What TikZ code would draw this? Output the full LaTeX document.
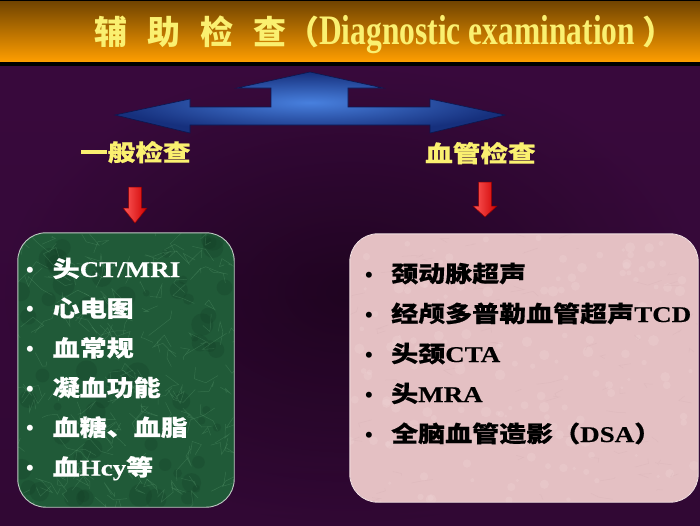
\documentclass[tikz,border=0pt]{standalone}
\usepackage{fontspec}
\setmainfont{Liberation Serif}
\newfontfamily\cjk{Noto Sans CJK SC}
\newfontfamily\cjkw{Noto Sans CJK SC}[FakeStretch=1.2, FakeBold=0.6]
\newfontfamily\serw{Liberation Serif Bold}[FakeStretch=1.2, FakeBold=0.4]
\newfontfamily\sern{Liberation Serif Bold}[FakeStretch=0.75]
\newcommand\zh[1]{{\cjkw\bfseries #1}}
\newcommand\en[1]{{\serw #1}}
\definecolor{ttlyellow}{RGB}{250,240,112}
\definecolor{hdrtop}{RGB}{110,66,0}
\definecolor{hdrbot}{RGB}{255,158,0}
\definecolor{bgtop}{RGB}{58,10,62}
\definecolor{bgbot}{RGB}{36,5,38}
\definecolor{bgdark}{RGB}{22,2,22}
\definecolor{arrin}{RGB}{72,128,222}
\definecolor{arrout}{RGB}{22,48,125}
\definecolor{arrline}{RGB}{10,24,80}
\definecolor{greenbase}{RGB}{32,90,56}
\definecolor{greenvein}{RGB}{105,170,125}
\definecolor{greendark}{RGB}{18,58,35}
\definecolor{pinkbase}{RGB}{228,192,195}
\definecolor{pinklight}{RGB}{240,212,214}
\definecolor{pinkdark}{RGB}{208,170,175}
\definecolor{redlight}{RGB}{255,90,90}
\definecolor{reddark}{RGB}{205,0,0}
\tikzset{
  itemfont/.style={font=\fontsize{22.5}{27}\selectfont},
  whiteitem/.style={itemfont, text=white, anchor=base west, inner sep=0pt},
  blackitem/.style={itemfont, text=black, anchor=base west, inner sep=0pt},
  bulletw/.style={font=\fontsize{22}{26}\selectfont\bfseries, text=white, anchor=base, inner sep=0pt},
  bulletb/.style={font=\fontsize{22}{26}\selectfont\bfseries, text=black, anchor=base, inner sep=0pt},
  catlabel/.style={font=\cjkw\bfseries\fontsize{23}{26}\selectfont, text=ttlyellow, anchor=base west, inner sep=0pt},
  greenbox/.style={rounded corners=28pt, fill=greenbase, minimum width=216pt, minimum height=274pt, inner sep=0pt},
  pinkbox/.style={rounded corners=28pt, fill=pinkbase, minimum width=348pt, minimum height=268pt, inner sep=0pt},
  redarrow/.style={left color=redlight, right color=reddark, draw={rgb,255:red,140;green,0;blue,0}, line width=0.5pt},
}
\begin{document}
\begin{tikzpicture}[x=1pt,y=-1pt]
\useasboundingbox (0,0) rectangle (700,525);
% background
\shade[top color=bgtop, bottom color=bgbot] (0,0) rectangle (700,525);
\shade[inner color=bgdark, outer color=bgtop, opacity=0.6] (0,60) rectangle (700,525);
% header
\shade[top color=hdrtop, bottom color=hdrbot] (0,0) rectangle (700,62);
\fill[black] (0,62) rectangle (700,65.5);
\fill[black] (0,0) rectangle (700,1.2);
\node[anchor=base west, inner sep=0pt, text=ttlyellow] (title) at (94,44)
  {{\cjk\bfseries\fontsize{33}{36}\selectfont 辅\hspace{20pt}助\hspace{20pt}检\hspace{20pt}查（}{\sern\fontsize{42}{46}\selectfont Diagnostic examination }{\cjk\bfseries\fontsize{33}{36}\selectfont ）}};
% blue triple arrow
\shade[inner color=arrin, outer color=arrout, draw=arrline, line width=0.6pt]
  (310,72) -- (383,88) -- (348,88) -- (348,107) -- (430,107) -- (430,99) -- (505,115)
  -- (430,133) -- (430,125) -- (190,125) -- (190,133) -- (115,115) -- (190,99)
  -- (190,107) -- (271,107) -- (271,88) -- (237,88) -- cycle;
% category labels
\node[catlabel] (lab1) at (80,161) {一般检查};
\node[catlabel] (lab2) at (425,162) {血管检查};
% red arrows
\shade[redarrow] (128.5,187) -- (141.5,187) -- (141.5,208) -- (147,208) -- (135,223)
  -- (123,208) -- (128.5,208) -- cycle;
\shade[redarrow] (478.5,182) -- (491.5,182) -- (491.5,206) -- (497,206) -- (485,217)
  -- (473,206) -- (478.5,206) -- cycle;
% green box
\node[greenbox] (box1) at (126,370) {};
\begin{scope}
  \clip[rounded corners=28pt] (box1.north west) rectangle (box1.south east);
  \pgfmathsetseed{12}
  \foreach \k in {1,...,60}{
    \pgfmathsetmacro\xa{18+rnd*216}
    \pgfmathsetmacro\ya{233+rnd*274}
    \pgfmathsetmacro\rr{3+rnd*9}
    \fill[greendark, opacity=0.22] (\xa,\ya) circle[radius=\rr pt];
  }
  \foreach \k in {1,...,160}{
    \pgfmathsetmacro\xa{18+rnd*216}
    \pgfmathsetmacro\ya{233+rnd*274}
    \draw[greenvein, opacity=0.28, line width=0.5pt] (\xa,\ya) -- ++(rand*14,rand*14) -- ++(rand*14,rand*14) -- ++(rand*14,rand*14);
  }
\end{scope}
\draw[rounded corners=28pt, draw={rgb,255:red,190;green,205;blue,195}, line width=0.9pt] (box1.north west) rectangle (box1.south east);
% pink box
\node[pinkbox] (box2) at (524,368) {};
\begin{scope}
  \clip[rounded corners=28pt] (box2.north west) rectangle (box2.south east);
  \pgfmathsetseed{5}
  \foreach \k in {1,...,160}{
    \pgfmathsetmacro\xa{350+rnd*348}
    \pgfmathsetmacro\ya{234+rnd*268}
    \pgfmathsetmacro\rr{1.5+rnd*4}
    \fill[pinklight, opacity=0.3] (\xa,\ya) circle[radius=\rr pt];
  }
  \foreach \k in {1,...,90}{
    \pgfmathsetmacro\xa{350+rnd*348}
    \pgfmathsetmacro\ya{234+rnd*268}
    \draw[pinkdark, opacity=0.25, line width=0.5pt] (\xa,\ya) -- ++(rand*14,rand*5) -- ++(rand*14,rand*5);
  }
\end{scope}
\draw[rounded corners=28pt, draw={rgb,255:red,245;green,228;blue,228}, line width=0.9pt] (box2.north west) rectangle (box2.south east);
% left items
\foreach \n/\yy in {1/277,2/316.7,3/356.4,4/396.1,5/435.8,6/475.5}{
  \node[bulletw] (bl\n) at (30,\yy) {•};
}
\node[whiteitem] (l1) at (52.5,277) {\zh{头}\en{CT/MRI}};
\node[whiteitem] (l2) at (52.5,316.7) {\zh{心电图}};
\node[whiteitem] (l3) at (52.5,356.4) {\zh{血常规}};
\node[whiteitem] (l4) at (52.5,396.1) {\zh{凝血功能}};
\node[whiteitem] (l5) at (52.5,435.8) {\zh{血糖、血脂}};
\node[whiteitem] (l6) at (52.5,475.5) {\zh{血}\en{Hcy}\zh{等}};
% right items
\foreach \n/\yy in {1/282,2/322,3/362,4/402,5/442}{
  \node[bulletb] (br\n) at (369,\yy) {•};
}
\node[blackitem] (r1) at (391,282) {\zh{颈动脉超声}};
\node[blackitem] (r2) at (391,322) {\zh{经颅多普勒血管超声}\en{TCD}};
\node[blackitem] (r3) at (391,362) {\zh{头颈}\en{CTA}};
\node[blackitem] (r4) at (391,402) {\zh{头}\en{MRA}};
\node[blackitem] (r5) at (391,442) {\zh{全脑血管造影（}\en{DSA}\zh{）}};
\end{tikzpicture}
\end{document}
